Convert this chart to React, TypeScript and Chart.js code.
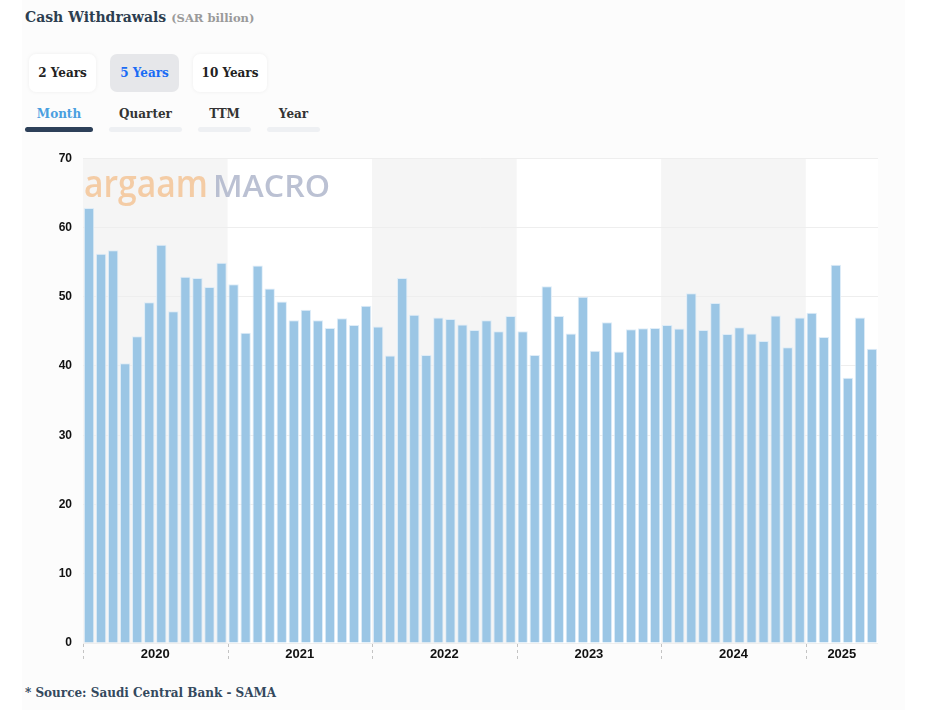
import React, { useEffect, useRef } from 'react';
import { Chart, registerables } from 'chart.js';

Chart.register(...registerables);

const years = ['2020', '2021', '2022', '2023', '2024', '2025'];
const monthsPerYear = [12, 12, 12, 12, 12, 6];
const monthNames = ['Jan', 'Feb', 'Mar', 'Apr', 'May', 'Jun', 'Jul', 'Aug', 'Sep', 'Oct', 'Nov', 'Dec'];

const values2020 = [62.8, 56.2, 56.7, 40.4, 44.3, 49.2, 57.5, 47.9, 52.9, 52.7, 51.4, 54.9];
const values2021 = [51.8, 44.8, 54.5, 51.2, 49.3, 46.6, 48.1, 46.6, 45.5, 46.9, 45.9, 48.7];
const values2022 = [45.7, 41.5, 52.7, 47.4, 41.6, 47.0, 46.8, 46.0, 45.2, 46.6, 45.0, 47.2];
const values2023 = [45.0, 41.6, 51.5, 47.2, 44.7, 50.0, 42.2, 46.3, 42.1, 45.3, 45.45, 45.5];
const values2024 = [45.9, 45.4, 50.5, 45.2, 49.1, 44.6, 45.6, 44.7, 43.6, 47.3, 42.7, 47.0];
const values2025 = [47.7, 44.2, 54.6, 38.3, 47.0, 42.5];

const yTicks = [0, 10, 20, 30, 40, 50, 60, 70];

const labels: string[] = [];
years.forEach((y, i) => {
  for (let m = 0; m < monthsPerYear[i]; m++) labels.push(monthNames[m] + ' ' + y);
});
const values = [...values2020, ...values2021, ...values2022, ...values2023, ...values2024, ...values2025];

const yearStarts: number[] = [];
{
  let acc = 0;
  monthsPerYear.forEach((n) => {
    yearStarts.push(acc);
    acc += n;
  });
}
const yearMidIndex: Record<number, string> = {};
years.forEach((y, i) => {
  yearMidIndex[yearStarts[i] + Math.floor(monthsPerYear[i] / 2) - 1] = y;
});

const decorPlugin = {
  id: 'decor',
  beforeDraw(chart: any) {
    const { ctx, chartArea } = chart;
    const x = chart.scales.x;
    const step = x._length / labels.length;
    ctx.save();
    ctx.fillStyle = '#ffffff';
    ctx.fillRect(chartArea.left, chartArea.top, chartArea.right - chartArea.left, chartArea.bottom - chartArea.top);
    ctx.fillStyle = '#f5f5f5';
    years.forEach((y, i) => {
      if (i % 2 === 0) {
        const l = x.getPixelForValue(yearStarts[i]) - step / 2;
        const r = l + monthsPerYear[i] * step;
        ctx.fillRect(l, chartArea.top, r - l, chartArea.bottom - chartArea.top);
      }
    });
    // watermark
    const base = chartArea.top + 39;
    const drawFit = (text: string, left: number, width: number, sy: number, color: string) => {
      ctx.font = '600 30px "Open Sans", sans-serif';
      const w = ctx.measureText(text).width;
      ctx.save();
      ctx.translate(left, base);
      ctx.scale(width / w, sy);
      ctx.fillStyle = color;
      ctx.textBaseline = 'alphabetic';
      ctx.fillText(text, 0, 0);
      ctx.restore();
    };
    drawFit('argaam', chartArea.left + 1, 124, 1.25, 'rgba(243,196,150,0.85)');
    drawFit('MACRO', chartArea.left + 130, 117, 1.0, 'rgba(170,178,200,0.8)');
    ctx.restore();
  },
  afterDraw(chart: any) {
    const { ctx, chartArea } = chart;
    const x = chart.scales.x;
    const step = x._length / labels.length;
    ctx.save();
    ctx.strokeStyle = '#c4c4c4';
    ctx.lineWidth = 1;
    ctx.setLineDash([3, 3]);
    yearStarts.forEach((s) => {
      const px = Math.round(x.getPixelForValue(s) - step / 2) + 0.5;
      ctx.beginPath();
      ctx.moveTo(px, chartArea.bottom + 1);
      ctx.lineTo(px, chartArea.bottom + 17);
      ctx.stroke();
    });
    ctx.restore();
  },
};

function ChartBox() {
  const ref = useRef<HTMLCanvasElement>(null);
  useEffect(() => {
    if (!ref.current) return;
    const chart = new Chart(ref.current, {
      type: 'bar',
      data: {
        labels,
        datasets: [
          {
            data: values,
            backgroundColor: '#9bc6e5',
            borderColor: 'rgba(220,235,247,0.9)',
            borderWidth: 1,
            barPercentage: 0.86,
            categoryPercentage: 1,
          },
        ],
      },
      options: {
        responsive: false,
        animation: false,
        devicePixelRatio: 1,
        layout: { padding: { top: 0, right: 27, left: 0, bottom: 0 } },
        plugins: { legend: { display: false }, tooltip: { enabled: false } },
        scales: {
          x: {
            grid: { display: false, drawTicks: false },
            border: { display: false },
            ticks: {
              autoSkip: false,
              maxRotation: 0,
              minRotation: 0,
              padding: 4,
              labelOffset: 6,
              color: '#111',
              font: { family: '"Liberation Sans", Arial, sans-serif', size: 13, weight: 'bold' },
              callback: (_v: any, i: number) => yearMidIndex[i] || '',
            },
            afterFit: (s: any) => {
              s.height = 32;
            },
          },
          y: {
            min: 0,
            max: 70,
            afterBuildTicks: (s: any) => {
              s.ticks = yTicks.map((v) => ({ value: v }));
            },
            grid: { color: '#eeeeee', drawTicks: false },
            border: { display: false },
            ticks: {
              padding: 11,
              color: '#111',
              font: { family: '"Liberation Sans", Arial, sans-serif', size: 12, weight: 'bold' },
            },
            afterFit: (s: any) => {
              s.width = 58;
            },
          },
        },
      },
      plugins: [decorPlugin],
    } as any);
    return () => chart.destroy();
  }, []);
  return <canvas ref={ref} width={880} height={535} style={{ position: 'absolute', left: 25, top: 140, width: 880, height: 535 }} />;
}

const serif = '"DejaVu Serif", "Liberation Serif", serif';

function Btn({ text, left, width, active }: { text: string; left: number; width: number; active?: boolean }) {
  return (
    <div
      style={{
        position: 'absolute',
        left,
        top: 54,
        width,
        height: 38,
        borderRadius: 7,
        background: active ? '#e6e7ea' : '#ffffff',
        boxShadow: active ? 'none' : '0 0 4px rgba(0,0,0,0.06)',
        display: 'flex',
        alignItems: 'center',
        justifyContent: 'center',
        fontFamily: serif,
        fontWeight: 'bold',
        fontSize: 12,
        color: active ? '#1a6cf5' : '#222',
      }}
    >
      {text}
    </div>
  );
}

function Tab({ text, left, width, active }: { text: string; left: number; width: number; active?: boolean }) {
  return (
    <div style={{ position: 'absolute', left, top: 105, width }}>
      <div
        style={{
          textAlign: 'center',
          fontFamily: serif,
          fontWeight: 'bold',
          fontSize: 12,
          color: active ? '#4a9fe0' : '#333',
          height: 19,
          lineHeight: '18px',
        }}
      >
        {text}
      </div>
      <div
        style={{
          marginTop: 3,
          height: 5,
          borderRadius: 3,
          background: active ? '#2d4059' : '#eef0f3',
        }}
      />
    </div>
  );
}

export default function App() {
  return (
    <div style={{ position: 'absolute', left: 0, top: 0, width: 927, height: 720, background: '#ffffff', overflow: 'hidden' }}>
      <div style={{ position: 'absolute', left: 22, top: 0, width: 883, height: 710, background: '#fcfcfc' }} />
      <div style={{ position: 'absolute', left: 25, top: 7, whiteSpace: 'nowrap', fontFamily: serif }}>
        <span style={{ fontWeight: 'bold', fontSize: 14, color: '#2c3e50' }}>Cash Withdrawals</span>
        <span style={{ fontWeight: 'bold', fontSize: 11.5, color: '#9a9a9a', marginLeft: 5 }}>(SAR billion)</span>
      </div>
      <Btn text="2 Years" left={29} width={67} />
      <Btn text="5 Years" left={110} width={69} active />
      <Btn text="10 Years" left={193} width={74} />
      <Tab text="Month" left={25} width={68} active />
      <Tab text="Quarter" left={109} width={73} />
      <Tab text="TTM" left={198} width={53} />
      <Tab text="Year" left={267} width={53} />
      <ChartBox />
      <div
        style={{
          position: 'absolute',
          left: 25,
          top: 686,
          whiteSpace: 'nowrap',
          fontFamily: serif,
          fontWeight: 'bold',
          fontSize: 12,
          color: '#34495e',
        }}
      >
        * Source: Saudi Central Bank - SAMA
      </div>
    </div>
  );
}
